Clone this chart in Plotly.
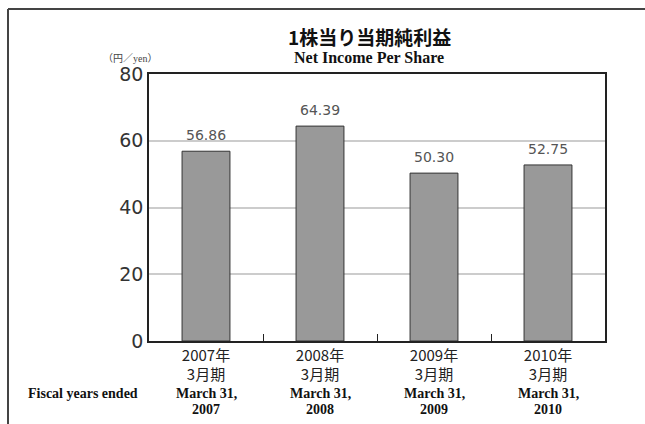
import plotly.graph_objects as go

categories = ["2007年", "2008年", "2009年", "2010年"]
period_labels = ["3月期", "3月期", "3月期", "3月期"]
values = [56.86, 64.39, 50.30, 52.75]
value_labels = ["56.86", "64.39", "50.30", "52.75"]
english_line1 = ["March 31,", "March 31,", "March 31,", "March 31,"]
english_line2 = ["2007", "2008", "2009", "2010"]
y_ticks = [0, 20, 40, 60, 80]

W, H = 645, 424
L, R, T, B = 149, 40, 74, 83
PW, PH = W - L - R, H - T - B

def px(x):
    return (x - L) / PW

def py(y):
    return 1 - (y - T) / PH

fig = go.Figure()
fig.add_trace(go.Bar(
    x=categories, y=values, width=0.42,
    marker=dict(color="#999999", line=dict(color="#333333", width=1)),
    hoverinfo="skip",
))

serif = dict(family="Liberation Serif", size=14, color="#111111")
annotations = []
for c, v, t in zip(categories, values, value_labels):
    annotations.append(dict(x=c, y=v, xref="x", yref="y", text=t, showarrow=False,
                            xanchor="center", yanchor="bottom", yshift=6,
                            font=dict(family="DejaVu Sans", size=14, color="#555555")))
for c, e1, e2 in zip(categories, english_line1, english_line2):
    annotations.append(dict(x=c, y=py(393), xref="x", yref="paper", text="<b>" + e1 + "</b>",
                            showarrow=False, xanchor="center", yanchor="middle", font=serif))
    annotations.append(dict(x=c, y=py(409), xref="x", yref="paper", text="<b>" + e2 + "</b>",
                            showarrow=False, xanchor="center", yanchor="middle", font=serif))

annotations += [
    dict(x=px(83), y=py(393), xref="paper", yref="paper", text="<b>Fiscal years ended</b>",
         showarrow=False, xanchor="center", yanchor="middle", font=serif),
    dict(x=px(369), y=py(37), xref="paper", yref="paper", text="<b>1株当り当期純利益</b>",
         showarrow=False, xanchor="center", yanchor="middle",
         font=dict(family="Noto Sans CJK JP", size=19, color="#111111")),
    dict(x=px(369), y=py(57), xref="paper", yref="paper", text="<b>Net Income Per Share</b>",
         showarrow=False, xanchor="center", yanchor="middle",
         font=dict(family="Liberation Serif", size=16, color="#111111")),
    dict(x=px(130), y=py(57), xref="paper", yref="paper",
         text="<span style='font-family:Noto Sans CJK JP'>（円／</span><span style='font-family:Liberation Serif'>yen</span><span style='font-family:Noto Sans CJK JP'>）</span>",
         showarrow=False, xanchor="center", yanchor="middle", font=dict(size=10, color="#444444")),
]

shapes = [
    dict(type="line", xref="paper", yref="paper", x0=px(8), x1=px(645), y0=py(9), y1=py(9),
         line=dict(color="#444444", width=2)),
    dict(type="line", xref="paper", yref="paper", x0=px(8), x1=px(8), y0=py(9), y1=py(424),
         line=dict(color="#444444", width=2)),
]

fig.update_layout(
    width=W, height=H,
    margin=dict(l=L, r=R, t=T, b=B),
    paper_bgcolor="white", plot_bgcolor="white",
    showlegend=False,
    annotations=annotations,
    shapes=shapes,
)
fig.update_xaxes(
    type="category", showline=True, linecolor="#222222", linewidth=1.5, mirror=True,
    ticks="inside", tickson="boundaries", ticklen=7, tickcolor="#222222", tickwidth=1,
    tickmode="array", tickvals=categories,
    ticktext=[c + "<br>" + p for c, p in zip(categories, period_labels)],
    tickfont=dict(family="Noto Sans CJK JP", size=15, color="#222222"),
    showgrid=False, fixedrange=True,
)
fig.update_yaxes(
    range=[0, 80], tickvals=y_ticks, showline=True, linecolor="#222222", linewidth=1.5,
    mirror=True, ticks="", showgrid=True, gridcolor="#cccccc", gridwidth=1.5,
    tickfont=dict(family="DejaVu Sans", size=19, color="#333333"), zeroline=False,
    fixedrange=True,
)

fig.write_html("out.html", config={"displayModeBar": False},
               post_script="document.body.style.margin='0';document.body.style.padding='0';")
